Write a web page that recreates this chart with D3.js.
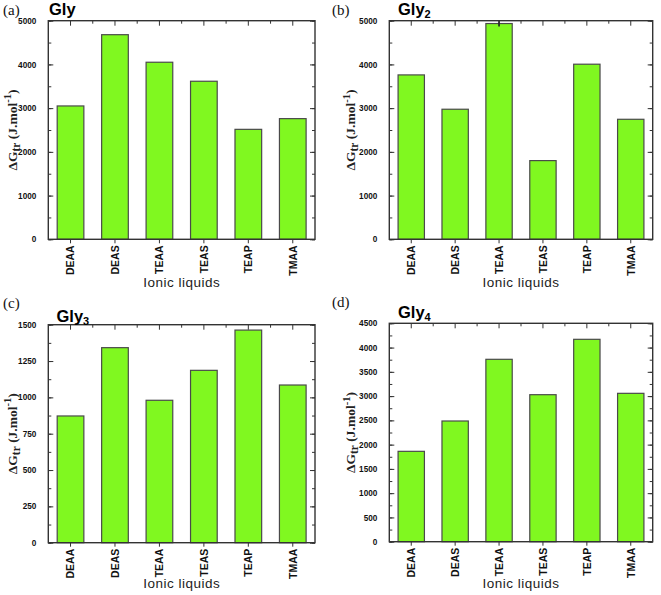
<!DOCTYPE html>
<html><head><meta charset="utf-8">
<script src="https://cdn.jsdelivr.net/npm/d3@7"></script>
<style>body{margin:0;background:#fff}svg{display:block}</style>
</head><body>
<script>
const categories = ["DEAA","DEAS","TEAA","TEAS","TEAP","TMAA"];
const glyValues  = [3050,4680,4050,3615,2515,2760];
const gly2Values = [3760,2975,4935,1800,4005,2745];
const gly3Values = [872,1342,980,1186,1463,1085];
const gly4Values = [1862,2487,3758,3029,4170,3057];
const gly2Errors = [0,0,70,0,0,0];
const ticksGly  = [0,1000,2000,3000,4000,5000];
const ticksGly2 = [0,1000,2000,3000,4000,5000];
const ticksGly3 = [0,250,500,750,1000,1250,1500];
const ticksGly4 = [0,500,1000,1500,2000,2500,3000,3500,4000,4500];
const xLabel = "Ionic liquids";

const panels = [
 {tag:"(a)", title:"Gly", sub:"", values:glyValues, errors:null, ticks:ticksGly, minor:500,
  x0:48.3, x1:315, y0:20.7, y1:239.3, tagX:3, tagY:15, titleX:49, titleY:15, ylX:16.5, xlY:287},
 {tag:"(b)", title:"Gly", sub:"2", values:gly2Values, errors:gly2Errors, ticks:ticksGly2, minor:500,
  x0:389.3, x1:652.7, y0:20.7, y1:239.3, tagX:332, tagY:15, titleX:398, titleY:15, ylX:355, xlY:287},
 {tag:"(c)", title:"Gly", sub:"3", values:gly3Values, errors:null, ticks:ticksGly3, minor:125,
  x0:48.3, x1:315, y0:324.7, y1:542.7, tagX:3, tagY:308, titleX:56.5, titleY:321.5, ylX:16.5, xlY:588},
 {tag:"(d)", title:"Gly", sub:"4", values:gly4Values, errors:null, ticks:ticksGly4, minor:250,
  x0:389.3, x1:652.7, y0:323.3, y1:541.7, tagX:332, tagY:307, titleX:398, titleY:318, ylX:355, xlY:587.5}
];

const svg = d3.select("body").append("svg").attr("width",661).attr("height",595);
const sans = "'Liberation Sans', Arial, sans-serif";
const serif = "'Liberation Serif', 'Times New Roman', serif";
const frameCol = "#333";

panels.forEach(p => {
  const g = svg.append("g");
  const x = d3.scaleBand().domain(categories).range([p.x0,p.x1]).paddingInner(0.4).paddingOuter(0.2);
  const ymax = p.ticks[p.ticks.length-1];
  const y = d3.scaleLinear().domain([0,ymax]).range([p.y1,p.y0]);
  const minorVals = d3.range(0, ymax + 1e-6, p.minor);
  const step = x.step();
  const bounds = categories.slice(1).map(c => x(c) - step*0.2);

  g.selectAll("rect.bar").data(p.values).join("rect")
    .attr("x",(d,i)=>x(categories[i])).attr("width",x.bandwidth())
    .attr("y",d=>y(d)).attr("height",d=>p.y1-y(d))
    .attr("fill","#80f820").attr("stroke","#4a4a4a").attr("stroke-width",1.2);

  if (p.errors) {
    p.errors.forEach((e,i)=>{
      if(!e) return;
      const cx = x(categories[i])+x.bandwidth()/2;
      g.append("line").attr("x1",cx).attr("x2",cx).attr("y1",y(p.values[i]+e)).attr("y2",y(p.values[i]-e))
        .attr("stroke","#222").attr("stroke-width",1.6);
    });
  }

  const left = d3.axisLeft(y).tickValues(p.ticks).tickSize(-5).tickPadding(12).tickFormat(d3.format("d"));
  const gl = g.append("g").attr("transform",`translate(${p.x0},0)`).call(left);
  gl.select(".domain").remove();
  gl.selectAll("line").attr("stroke",frameCol).attr("stroke-width",1);
  gl.selectAll("text").attr("font-family",sans).attr("font-weight","bold").attr("font-size",8.2).attr("fill","#111");
  g.append("g").attr("transform",`translate(${p.x0},0)`).call(d3.axisLeft(y).tickValues(minorVals).tickSize(-3).tickFormat(""))
    .call(a=>{a.select(".domain").remove();a.selectAll("line").attr("stroke",frameCol);});
  g.append("g").attr("transform",`translate(${p.x1},0)`).call(d3.axisRight(y).tickValues(p.ticks).tickSize(-5).tickFormat(""))
    .call(a=>{a.select(".domain").remove();a.selectAll("line").attr("stroke",frameCol);});
  g.append("g").attr("transform",`translate(${p.x1},0)`).call(d3.axisRight(y).tickValues(minorVals).tickSize(-3).tickFormat(""))
    .call(a=>{a.select(".domain").remove();a.selectAll("line").attr("stroke",frameCol);});
  g.append("g").attr("transform",`translate(0,${p.y0})`).call(d3.axisTop(x).tickSize(-5).tickFormat(""))
    .call(a=>{a.select(".domain").remove();a.selectAll("line").attr("stroke",frameCol);});
  bounds.forEach(b=>g.append("line").attr("x1",b).attr("x2",b).attr("y1",p.y0).attr("y2",p.y0+3).attr("stroke",frameCol));
  const gb = g.append("g").attr("transform",`translate(0,${p.y1})`).call(d3.axisBottom(x).tickSize(4).tickFormat(d=>d));
  gb.select(".domain").remove();
  gb.selectAll("line").attr("stroke",frameCol);
  gb.selectAll("text").attr("font-family",sans).attr("font-weight","bold").attr("font-size",10.5).attr("fill","#111")
    .attr("transform","rotate(-90)").attr("text-anchor","end").attr("x",-6).attr("y",0).attr("dy","0.36em");

  g.append("rect").attr("x",p.x0).attr("y",p.y0).attr("width",p.x1-p.x0).attr("height",p.y1-p.y0)
    .attr("fill","none").attr("stroke",frameCol).attr("stroke-width",1.4);

  g.append("text").attr("x",(p.x0+p.x1)/2).attr("y",p.xlY).attr("text-anchor","middle")
    .attr("font-family",sans).attr("font-size",13.5).attr("letter-spacing",0.5).attr("fill","#222").text(xLabel);

  const yl = g.append("text").attr("transform",`translate(${p.ylX},${(p.y0+p.y1)/2}) rotate(-90)`)
    .attr("text-anchor","middle").attr("font-family",serif).attr("font-weight","bold").attr("font-size",13.5).attr("fill","#222");
  yl.append("tspan").text("\u0394G");
  yl.append("tspan").attr("font-size",11.5).attr("dy",3).text("tr");
  yl.append("tspan").attr("dy",-3).text(" (J.mol");
  yl.append("tspan").attr("font-size",10.5).attr("dy",-5.5).text("-1");
  yl.append("tspan").attr("dy",5.5).text(")");

  g.append("text").attr("x",p.tagX).attr("y",p.tagY).attr("font-family",serif).attr("font-size",15).attr("fill","#111").text(p.tag);
  const t = g.append("text").attr("x",p.titleX).attr("y",p.titleY).attr("font-family",sans).attr("font-weight","bold")
    .attr("font-size",16.5).attr("fill","#000");
  t.append("tspan").text(p.title);
  if (p.sub) t.append("tspan").attr("font-size",11).attr("dy",3).text(p.sub);
});
</script>
</body></html>
